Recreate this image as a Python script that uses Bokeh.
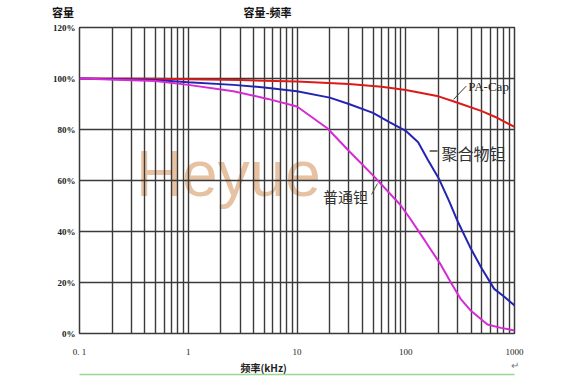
from bokeh.plotting import figure
from bokeh.models import FixedTicker, Label, Title, LogAxis, CustomJSTickFormatter
from bokeh.core.properties import value
from bokeh.embed import file_html
from bokeh.resources import INLINE

# ---- data ----
x_ticks = [0.1, 1, 10, 100, 1000]
x_tick_labels = ["0. 1", "1", "10", "100", "1000"]
y_ticks = [0, 20, 40, 60, 80, 100, 120]

pacap_f = [0.1, 0.5, 1, 3, 10, 30, 60, 100, 200, 300, 500, 700, 1000]
pacap_v = [100, 99.9, 99.7, 99.4, 98.8, 97.8, 96.8, 95.5, 93, 90.5, 87.2, 84.5, 81]

poly_f = [0.1, 0.5, 1, 2.6, 5, 10, 20, 30, 50, 70, 100, 130, 160, 200, 250, 300, 400, 500, 650, 800, 1000]
poly_v = [100, 99.4, 98.5, 97.5, 96.5, 95, 92.5, 90, 86.5, 83, 79.5, 75, 68, 61, 52, 44, 33, 25.5, 17.5, 14.5, 11]

std_f = [0.1, 0.5, 1, 2.6, 5.4, 10, 19, 31, 50, 89, 110, 150, 210, 260, 318, 400, 564, 750, 1000]
std_v = [100, 99, 97.5, 95, 92, 89, 80.5, 71, 62, 50.5, 45, 36.4, 27, 20, 13.7, 8.8, 3.5, 2.2, 1.2]

title_text = "容量-频率"
y_label_text = "容量"
x_label_text = "频率(kHz)"
series_names = ["PA-Cap", "聚合物钽", "普通钽"]
watermark = "Heyue"
end_mark = "↵"

CJK = "Noto Sans CJK SC"
GRID = "#3a3a3a"
IDEO_SPACE = "\u3000"

p = figure(frame_width=435, frame_height=306, x_axis_type="log",
           x_range=(0.1, 1000), y_range=(0, 120),
           title_location=None,
           output_backend="svg", toolbar_location=None,
           min_border_left=79, min_border_right=50,
           min_border_top=26, min_border_bottom=50)
p.outline_line_color = GRID
p.outline_line_width = 1.5
p.background_fill_color = "white"
p.border_fill_color = "white"

xa = p.below[0]
ya = p.left[0]

# ticks / grid
minor = [m * d for d in [0.1, 1, 10, 100] for m in range(2, 10)]
xa.ticker = FixedTicker(ticks=x_ticks, minor_ticks=minor)
ya.ticker = FixedTicker(ticks=y_ticks)
xa.major_label_overrides = {t: l for t, l in zip(x_ticks, x_tick_labels)}
ya.formatter = CustomJSTickFormatter(code="return tick + '%'")

for ax in (xa, ya):
    ax.axis_line_color = None
    ax.major_tick_line_color = None
    ax.minor_tick_line_color = None
    ax.major_tick_out = 0
    ax.minor_tick_out = 0
    ax.major_label_text_font = "Liberation Serif"
    ax.major_label_text_font_size = "9px"
    ax.major_label_text_color = "#222222"
ya.major_label_text_font_style = "bold"
xa.major_label_standoff = 13
ya.major_label_standoff = 4

p.xgrid.grid_line_color = GRID
p.xgrid.grid_line_width = 1.4
p.xgrid.minor_grid_line_color = GRID
p.xgrid.minor_grid_line_width = 1.4
p.ygrid.grid_line_color = GRID
p.ygrid.grid_line_width = 1.4

# top row: y label (left) and chart title on one text row
top = LogAxis(ticker=FixedTicker(ticks=[0.1, 5.36]),
              major_label_overrides={0.1: y_label_text + IDEO_SPACE * 3, 5.36: title_text},
              axis_line_color=None, major_tick_line_color=None, minor_tick_line_color=None,
              major_tick_out=0, minor_tick_out=0, major_label_standoff=8,
              major_label_text_font=CJK, major_label_text_font_size="11px",
              major_label_text_font_style="bold", major_label_text_color="#111111")
p.add_layout(top, "above")

# x axis title below the tick labels
p.add_layout(Title(text=x_label_text, align="left", offset=161, standoff=-2,
                   vertical_align="middle",
                   text_font=CJK, text_font_size="10px", text_color="#222222"), "below")

# green rule with end mark
green = LogAxis(ticker=FixedTicker(ticks=[1000]),
                major_label_overrides={1000: end_mark},
                axis_line_color="#98d890", axis_line_width=1.5,
                major_tick_line_color=None, minor_tick_line_color=None,
                major_tick_out=0, minor_tick_out=0,
                major_label_standoff=-18,
                major_label_text_font=CJK, major_label_text_font_size="10px",
                major_label_text_color="#777777")
p.add_layout(green, "below")

# watermark
p.text(x=[2.34], y=[62.7], text=[watermark], text_font=value("Liberation Sans"),
       text_font_size="64px", text_color="#e6c2a2", text_align="center",
       text_baseline="middle", level="image")

# curves
p.line(pacap_f, pacap_v, line_color="#dd1a1a", line_width=2)
p.line(poly_f, poly_v, line_color="#2424b4", line_width=2)
p.line(std_f, std_v, line_color="#d62ad6", line_width=2)

# leader lines
p.line([275, 360], [91.8, 97.0], line_color="#333333", line_width=1)
p.line([166, 196], [71.6, 71.6], line_color="#444444", line_width=1.5)
p.line([48.4, 55], [54.5, 58.8], line_color="#555555", line_width=1)

# curve labels
p.add_layout(Label(x=577, y=96.9, text=series_names[0], text_font="Liberation Serif",
                   text_font_size="13px", text_align="center", text_baseline="middle",
                   text_color="#222222"))
p.add_layout(Label(x=420, y=70.6, text=series_names[1], text_font=CJK,
                   text_font_size="16px", text_align="center", text_baseline="middle",
                   text_color="#333333"))
p.add_layout(Label(x=27.9, y=53.7, text=series_names[2], text_font=CJK,
                   text_font_size="15px", text_align="center", text_baseline="middle",
                   text_color="#333333"))

open("out.html", "w").write(file_html(p, INLINE))
